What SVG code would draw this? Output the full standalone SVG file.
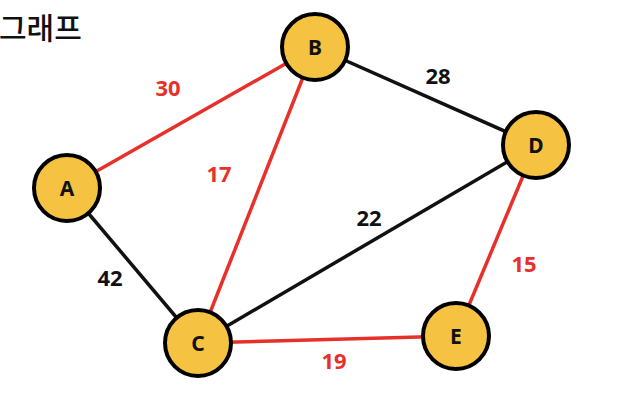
<svg xmlns="http://www.w3.org/2000/svg" width="622" height="406" viewBox="0 0 622 406">
<style>
.e{stroke-width:3.5;fill:none}
.r{stroke:#E8302A}
.k{stroke:#111}
.n circle{fill:#F5C242;stroke:#000;stroke-width:4}
.n text{font-family:"Noto Sans","Open Sans",sans-serif;font-weight:bold;font-size:21px;fill:#111;text-anchor:middle}
.w{font-family:"Noto Sans","Open Sans",sans-serif;font-weight:bold;font-size:22px;text-anchor:middle}
.wr{fill:#E8302A}
.wk{fill:#111}
</style>
<rect width="622" height="406" fill="#fff"/>
<text x="-1" y="39" font-family="'Noto Sans CJK KR',sans-serif" font-weight="500" font-size="30" fill="#111">그래프</text>
<g id="edges">
<line class="e r" x1="67" y1="188" x2="315" y2="47"/>
<line class="e k" x1="315" y1="47" x2="536" y2="145"/>
<line class="e r" x1="315" y1="47" x2="198" y2="343"/>
<line class="e k" x1="67" y1="188" x2="198" y2="343"/>
<line class="e k" x1="198" y1="343" x2="536" y2="145"/>
<line class="e r" x1="198" y1="343" x2="456" y2="336"/>
<line class="e r" x1="536" y1="145" x2="456" y2="336"/>
<text class="w wr" x="168" y="96">30</text>
<text class="w wk" x="438" y="84">28</text>
<text class="w wr" x="219" y="182">17</text>
<text class="w wk" x="369" y="226">22</text>
<text class="w wk" x="110" y="286">42</text>
<text class="w wr" x="524" y="272">15</text>
<text class="w wr" x="334" y="369">19</text>
</g>
<g id="A" class="n"><circle cx="67" cy="188" r="33"/><text x="67" y="196">A</text></g>
<g id="B" class="n"><circle cx="315" cy="47" r="33"/><text x="315" y="55">B</text></g>
<g id="C" class="n"><circle cx="198" cy="343" r="33"/><text x="198" y="351">C</text></g>
<g id="D" class="n"><circle cx="536" cy="145" r="33"/><text x="536" y="153">D</text></g>
<g id="E" class="n"><circle cx="456" cy="336" r="33"/><text x="456" y="344">E</text></g>
</svg>
